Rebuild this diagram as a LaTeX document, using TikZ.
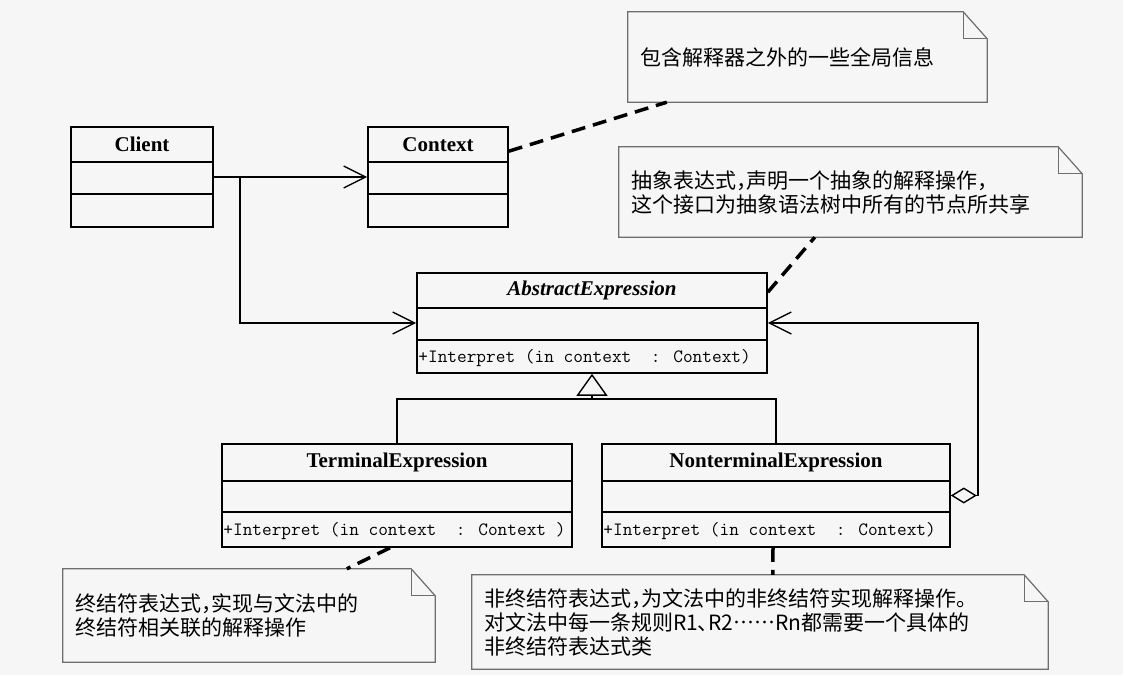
\documentclass[tikz,border=0pt]{standalone}
\usepackage{fontspec}
\setmainfont{Liberation Serif}
\newfontfamily\cjk[Script=CJK, Language=Chinese Simplified, RawFeature=+halt]{Noto Sans CJK SC}
\usetikzlibrary{arrows.meta, calc}

\definecolor{paper}{RGB}{246,246,246}
\definecolor{notegray}{RGB}{110,110,110}

\tikzset{
    umlbox/.style={draw, line width=1.6pt, inner sep=0pt},
    umlline/.style={line width=1.6pt},
    classname/.style={font=\fontsize{21pt}{24pt}\selectfont\bfseries, inner sep=0pt},
    classop/.style={font=\fontsize{18.8pt}{20pt}\selectfont\ttfamily, inner sep=0pt, anchor=west},
    notebox/.style={inner xsep=12pt, inner ysep=0pt, align=left, font=\fontsize{21pt}{24pt}\selectfont\cjk},
    noteline/.style={draw=notegray, line width=1.2pt},
    openhead/.style={-{Straight Barb[length=22pt, width=22pt]}},
    assoc/.style={line width=1.4pt, openhead},
    notelink/.style={line width=3.5pt, dash pattern=on 14pt off 8pt},
}

\begin{document}
\begin{tikzpicture}[x=1pt, y=-1pt]
        \useasboundingbox (0,0) rectangle (1123,675);
        \fill[paper] (0,0) rectangle (1123,675);

        % Draw classes
        \node[umlbox, minimum width=142pt, minimum height=100pt] (client) at (142,177) {};
        \node[umlbox, minimum width=140pt, minimum height=100pt] (context) at (438,177) {};
        \node[umlbox, minimum width=350pt, minimum height=100pt] (abstract) at (592,323) {};
        \node[umlbox, minimum width=350pt, minimum height=103pt] (terminal) at (397,495.5) {};
        \node[umlbox, minimum width=348pt, minimum height=103pt] (nonterminal) at (776,495.5) {};

        % Compartments
        \draw[umlline] ([yshift=-36pt]client.north west) -- ([yshift=-36pt]client.north east);
        \draw[umlline] ([yshift=-68pt]client.north west) -- ([yshift=-68pt]client.north east);
        \draw[umlline] ([yshift=-36pt]context.north west) -- ([yshift=-36pt]context.north east);
        \draw[umlline] ([yshift=-68pt]context.north west) -- ([yshift=-68pt]context.north east);
        \draw[umlline] ([yshift=-36pt]abstract.north west) -- ([yshift=-36pt]abstract.north east);
        \draw[umlline] ([yshift=-68pt]abstract.north west) -- ([yshift=-68pt]abstract.north east);
        \draw[umlline] ([yshift=-38pt]terminal.north west) -- ([yshift=-38pt]terminal.north east);
        \draw[umlline] ([yshift=-69pt]terminal.north west) -- ([yshift=-69pt]terminal.north east);
        \draw[umlline] ([yshift=-38pt]nonterminal.north west) -- ([yshift=-38pt]nonterminal.north east);
        \draw[umlline] ([yshift=-69pt]nonterminal.north west) -- ([yshift=-69pt]nonterminal.north east);

        % Class names and operations
        \node[classname] (clientname) at ([yshift=-18pt]client.north) {Client};
        \node[classname] (contextname) at ([yshift=-18pt]context.north) {Context};
        \node[classname, font=\fontsize{21pt}{24pt}\selectfont\bfseries\itshape] (abstractname) at ([yshift=-18pt]abstract.north) {AbstractExpression};
        \node[classname] (terminalname) at ([yshift=-19pt]terminal.north) {TerminalExpression};
        \node[classname] (nonterminalname) at ([yshift=-19pt]nonterminal.north) {NonterminalExpression};
        \node[classop] (abstractop) at ([xshift=2pt, yshift=16pt]abstract.south west) {+Interpret (in context\ \ : Context)};
        \node[classop] (terminalop) at ([xshift=2pt, yshift=17pt]terminal.south west) {+Interpret (in context\ \ : Context )};
        \node[classop] (nonterminalop) at ([xshift=2pt, yshift=17pt]nonterminal.south west) {+Interpret (in context\ \ : Context)};

        % Notes
        \node[notebox, text width=335pt, minimum height=90pt] (note1) at (807.5,57) {包含解释器之外的一些全局信息};
        \node[notebox, text width=439pt, minimum height=90pt] (note2) at (850.5,192) {抽象表达式，声明一个抽象的解释操作，\\这个接口为抽象语法树中所有的节点所共享};
        \node[notebox, text width=348pt, minimum height=93pt] (note3) at (249,615.5) {终结符表达式，实现与文法中的\\终结符相关联的解释操作};
        \node[notebox, text width=552pt, minimum height=94pt] (note4) at (760,622) {非终结符表达式，为文法中的非终结符实现解释操作。\\对文法中每一条规则R1、R2……Rn都需要一个具体的\\非终结符表达式类};
        \foreach \n in {note1, note2, note3, note4} {
            \draw[noteline] (\n.north west) -- ([xshift=-24pt]\n.north east) -- ([yshift=-27pt]\n.north east) -- (\n.south east) -- (\n.south west) -- cycle;
            \draw[noteline] ([xshift=-24pt]\n.north east) |- ([yshift=-27pt]\n.north east);
        }

        % Draw connections
        \coordinate (clientjoint) at (240,177);
        \coordinate (genjoint) at (592,399);
        \coordinate (aggjoint) at (978,495.5);
        \draw[assoc] (client.east) -- (context.west);
        \draw[assoc] (clientjoint) |- (abstract.west);
        \draw[line width=1.4pt, {Triangle[open, length=22pt, width=31pt]}-] (abstract.south) -- (genjoint);
        \draw[line width=1.4pt] (terminal.north) |- (genjoint) -| (nonterminal.north);
        \draw[line width=1.4pt, {Diamond[open, length=26pt, width=16pt]}-{Straight Barb[length=22pt, width=22pt]}] (nonterminal.east) -- (aggjoint) |- (abstract.east);

        % Note links
        \draw[notelink] ($(context.north east)+(0,25)$) -- ($(note1.south west)+(39,0)$);
        \draw[notelink] ($(abstract.north east)+(0,20)$) -- ($(note2.south west)+(196,0)$);
        \draw[notelink] ($(terminal.south)+(-7,0)$) -- ($(note3.north west)+(284,0)$);
        \draw[notelink] ($(nonterminal.south)+(-3,0)$) -- ($(note4.north west)+(301,0)$);
    \end{tikzpicture}
\end{document}
